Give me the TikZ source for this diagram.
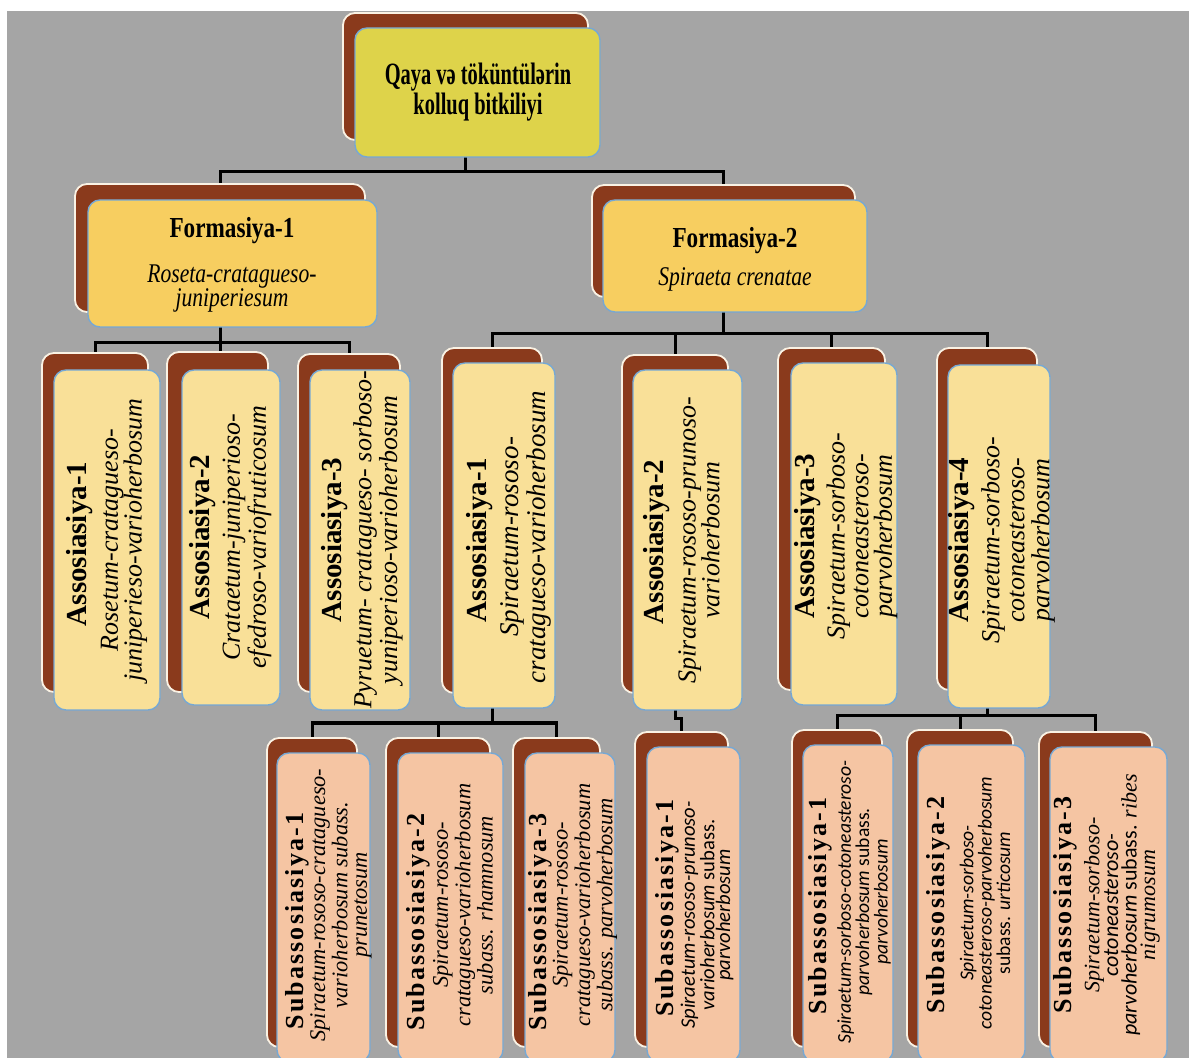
\documentclass[tikz,border=0pt]{standalone}
\usepackage{fontspec}
\setmainfont{Liberation Serif}
\setsansfont{Carlito}
\newfontfamily\condfont{Liberation Serif}[FakeStretch=0.66]
\newfontfamily\formfont{Liberation Serif}[FakeStretch=0.8]
\newfontfamily\sbtfont{Liberation Serif}[LetterSpace=8]
\definecolor{bgray}{RGB}{165,165,165}
\definecolor{brownc}{RGB}{138,58,28}
\definecolor{creamc}{RGB}{250,242,228}
\definecolor{bluec}{RGB}{118,168,212}
\definecolor{topc}{RGB}{222,211,74}
\definecolor{formc}{RGB}{247,206,96}
\definecolor{assc}{RGB}{249,224,152}
\definecolor{subc}{RGB}{245,197,163}
\pgfdeclarelayer{bg}
\pgfsetlayers{bg,main}
\newcommand{\mkbox}[6]{%
  \pgfmathsetmacro{\mkw}{(#5-#3)/2}%
  \pgfmathsetmacro{\mkh}{(#6-#4)/2}%
  \node[#2, minimum width=\mkw pt, minimum height=\mkh pt] (#1) at ({(#3+#5)/2},{(#4+#6)/2}) {};}
\begin{document}
\begin{tikzpicture}[x=0.5pt,y=-0.5pt,
  back/.style={draw=creamc, line width=0.9pt, fill=brownc, rounded corners=6pt, inner sep=0pt, outer sep=0pt},
  front/.style={draw=bluec, line width=0.7pt, rounded corners=6pt, inner sep=0pt, outer sep=0pt},
  topf/.style={front, fill=topc},
  formf/.style={front, fill=formc},
  assf/.style={front, fill=assc},
  subf/.style={front, fill=subc},
  conn/.style={line width=1.5pt, draw=black},
  vt/.style={rotate=90, align=center, inner sep=0pt},
  asstitle/.style={vt, font=\bfseries\fontsize{14.5}{14.5}\selectfont},
  assit/.style={vt, font=\itshape\fontsize{13}{11.8}\selectfont},
  subtitle/.style={vt, font=\sbtfont\bfseries\fontsize{13}{13}\selectfont},
  subit/.style={vt, font=\itshape\fontsize{11.2}{9.8}\selectfont},
  subsans/.style={vt, font=\sffamily\itshape\fontsize{9.8}{9.2}\selectfont}
]
\useasboundingbox (0,0) rectangle (1189,1058);
\begin{scope}
\clip (0,0) rectangle (1189,1058);
% top
\mkbox{topb}{back}{343}{13}{588}{140}
\mkbox{topf}{topf}{355}{28}{600}{157}
% formasiya
\mkbox{fa}{back}{75}{184}{365}{312}
\mkbox{faf}{formf}{88}{200}{377}{327}
\mkbox{fb}{back}{592}{185}{855}{297}
\mkbox{fbf}{formf}{603}{200}{867}{312}
% associations group 1
\mkbox{a1}{back}{42}{353}{148}{692}
\mkbox{a1f}{assf}{54}{370}{160}{710}
\mkbox{a2}{back}{167}{352}{268}{692}
\mkbox{a2f}{assf}{182}{370}{280}{705}
\mkbox{a3}{back}{298}{354}{400}{692}
\mkbox{a3f}{assf}{310}{370}{410}{710}
% associations group 2
\mkbox{b1}{back}{442}{348}{542}{693}
\mkbox{b1f}{assf}{453}{363}{555}{708}
\mkbox{b2}{back}{622}{355}{728}{693}
\mkbox{b2f}{assf}{633}{370}{742}{710}
\mkbox{b3}{back}{778}{348}{885}{690}
\mkbox{b3f}{assf}{791}{363}{897}{705}
\mkbox{b4}{back}{937}{348}{1037}{690}
\mkbox{b4f}{assf}{948}{365}{1050}{708}
% subassociations
\mkbox{s1}{back}{267}{738}{357}{1047}
\mkbox{s1f}{subf}{277}{753}{370}{1062}
\mkbox{s2}{back}{386}{738}{490}{1047}
\mkbox{s2f}{subf}{398}{753}{503}{1062}
\mkbox{s3}{back}{513}{738}{600}{1047}
\mkbox{s3f}{subf}{525}{753}{615}{1062}
\mkbox{m1}{back}{635}{732}{728}{1047}
\mkbox{m1f}{subf}{647}{747}{740}{1062}
\mkbox{t1}{back}{792}{730}{882}{1047}
\mkbox{t1f}{subf}{803}{745}{893}{1062}
\mkbox{t2}{back}{907}{730}{1013}{1047}
\mkbox{t2f}{subf}{918}{745}{1025}{1062}
\mkbox{t3}{back}{1039}{732}{1152}{1047}
\mkbox{t3f}{subf}{1050}{747}{1167}{1062}
\end{scope}
% texts
\node[font=\condfont\bfseries\fontsize{15.5}{14.8}\selectfont, align=center, inner sep=0pt] (toptxt) at (478,92) {Qaya və töküntülərin\\kolluq bitkiliyi};
\node[font=\formfont\bfseries\fontsize{14.5}{14.5}\selectfont, inner sep=0pt] (fat) at (232,231) {Formasiya-1};
\node[font=\formfont\itshape\fontsize{13.5}{12}\selectfont, align=center, inner sep=0pt] (fai) at (232,289) {Roseta-cratagueso-\\juniperiesum};
\node[font=\formfont\bfseries\fontsize{14.5}{14.5}\selectfont, inner sep=0pt] (fbt) at (735,241) {Formasiya-2};
\node[font=\formfont\itshape\fontsize{13.5}{12}\selectfont, inner sep=0pt] (fbi) at (735,279) {Spiraeta crenatae};
% association texts
\node[asstitle] (a1t) at (80,544) {Assosiasiya-1};
\node[assit] (a1i) at (124,540) {Rosetum-cratagueso-\\juniperieso-varioherbosum};
\node[asstitle] (a2t) at (203,537) {Assosiasiya-2};
\node[assit] (a2i) at (247,537) {Crataetum-juniperioso-\\efedroso-variofruticosum};
\node[asstitle] (a3t) at (335,540) {Assosiasiya-3};
\node[assit] (a3i) at (378,540) {Pyruetum- cratagueso- sorboso-\\yuniperioso-varioherbosum};
\node[asstitle] (b1t) at (480,540) {Assosiasiya-1};
\node[assit, font=\itshape\fontsize{13.5}{13.8}\selectfont] (b1i) at (526,537) {Spiraetum-rososo-\\cratagueso-varioherbosum};
\node[asstitle] (b2t) at (657,542) {Assosiasiya-2};
\node[assit] (b2i) at (699,540) {Spiraetum-rososo-prunoso-\\varioherbosum};
\node[asstitle] (b3t) at (808,536) {Assosiasiya-3};
\node[assit] (b3i) at (862,536) {Spiraetum-sorboso-\\cotoneasteroso-\\parvoherbosum};
\node[asstitle] (b4t) at (962,540) {Assosiasiya-4};
\node[assit, font=\itshape\fontsize{13}{12.5}\selectfont] (b4i) at (1018,540) {Spiraetum-sorboso-\\cotoneasteroso-\\parvoherbosum};
% subassociation texts
\node[subtitle] (s1t) at (297,921) {Subassosiasiya-1};
\node[subit] (s1i) at (341,905) {Spiraetum-rososo-cratagueso-\\varioherbosum subass.\\prunetosum};
\node[subtitle] (s2t) at (418,922) {Subassosiasiya-2};
\node[subit] (s2i) at (463,905) {Spiraetum-rososo-\\cratagueso-varioherbosum\\subass. rhamnosum};
\node[subtitle] (s3t) at (540,922) {Subassosiasiya-3};
\node[subit] (s3i) at (585,905) {Spiraetum-rososo-\\cratagueso-varioherbosum\\subass. parvoherbosum};
\node[subtitle] (m1t) at (667,908) {Subassosiasiya-1};
\node[subsans, font=\sffamily\itshape\fontsize{10.3}{7.8}\selectfont] (m1i) at (707,915) {Spiraetum-rososo-prunoso-\\varioherbosum {\upshape subass.}\\parvoherbosum};
\node[subtitle] (t1t) at (820,906) {Subassosiasiya-1};
\node[subsans] (t1i) at (864,902) {Spiraetum-sorboso-cotoneasteroso-\\parvoherbosum {\upshape subass.}\\parvoherbosum};
\node[subtitle] (t2t) at (938,905) {Subassosiasiya-2};
\node[subsans] (t2i) at (985,903) {Spiraetum-sorboso-\\cotoneasteroso-parvoherbosum\\{\upshape subass.} urticosum};
\node[subtitle] (t3t) at (1065,905) {Subassosiasiya-3};
\node[subit, font=\itshape\fontsize{11}{9.3}\selectfont] (t3i) at (1122,905) {Spiraetum-sorboso-\\{\sffamily cotoneasteroso-}\\{\sffamily parvoherbosum {\upshape subass.}} ribes\\nigrumosum};
% background and connectors
\begin{pgfonlayer}{bg}
\fill[white] (0,0) rectangle (1189,1058);
\fill[bgray] (7,11) rectangle (1189,1058);
\coordinate (y0) at (0,172);
\coordinate (y1) at (0,343);
\coordinate (y2) at (0,334);
\coordinate (y3) at (0,723);
\coordinate (y4) at (0,719);
\coordinate (y5) at (0,716);
\draw[conn] (topb.south) -- (topb.south |- y0) -| (fa.north);
\draw[conn] (topb.south |- y0) -| (fb.north);
\draw[conn] (fa.south) -- (fa.south |- y1);
\draw[conn] (a1.north) |- (a3.north |- y1) -- (a3.north);
\draw[conn] (fa.south |- y1) -- (fa.south |- a2.north);
\draw[conn] (fb.south) -- (fb.south |- y2);
\draw[conn] (b1.north) |- (b4.north |- y2) -- (b4.north);
\draw[conn] (b2.north |- y2) -- (b2.north);
\draw[conn] (b3.north |- y2) -- (b3.north);
\draw[conn] (b1.south) -- (b1.south |- y3);
\draw[conn] (s1.north) |- (s3.north |- y3) -- (s3.north);
\draw[conn] (s2.north |- y3) -- (s2.north);
\draw[conn] (b2.south) -- (b2.south |- y4) -| (m1.north);
\draw[conn] (b4.south) -- (b4.south |- y5);
\draw[conn] (t1.north) |- (t3.north |- y5) -- (t3.north);
\draw[conn] (t2.north |- y5) -- (t2.north);
\end{pgfonlayer}
\end{tikzpicture}
\end{document}
